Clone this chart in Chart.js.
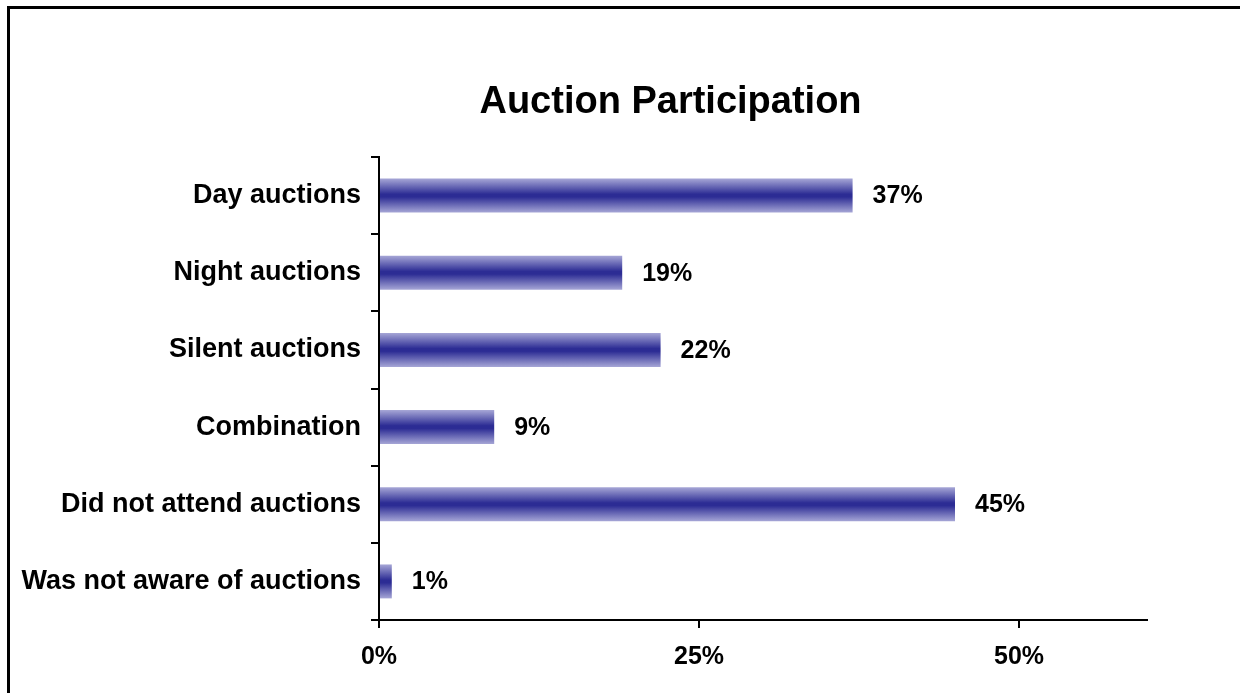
<!DOCTYPE html>
<html>
<head>
<meta charset="utf-8">
<title>Auction Participation</title>
<script src="https://cdn.jsdelivr.net/npm/chart.js@4.4.1/dist/chart.umd.min.js"></script>
<style>
  html, body { margin: 0; padding: 0; background: #fff; overflow: hidden; }
  body { width: 1240px; height: 693px; position: relative; }
  #frame {
    position: absolute; left: 7px; top: 6px;
    width: 1321px; height: 700px;
    border: 3px solid #000; background: #fff;
  }
  #frame canvas { position: absolute; left: 0; top: 0; }
</style>
</head>
<body>
<div id="frame">
  <canvas id="chart" width="1321" height="684"></canvas>
</div>
<script>
const titleText = 'Auction Participation';
const categories = [
  'Day auctions',
  'Night auctions',
  'Silent auctions',
  'Combination',
  'Did not attend auctions',
  'Was not aware of auctions'
];
const participation = [37, 19, 22, 9, 45, 1];
const xTicks = [0, 25, 50];
const xMax = 60;

const FONT = "'Liberation Sans', Arial, sans-serif";
const BAR_FRACTION = 0.44;

// light-dark-light band across each bar
function barGradient(c) {
  const chart = c.chart;
  const area = chart.chartArea;
  if (!area || c.dataIndex === undefined) return '#3a3a9c';
  const yc = chart.scales.y.getPixelForValue(c.dataIndex);
  const half = (area.height / categories.length) * BAR_FRACTION / 2;
  const g = chart.ctx.createLinearGradient(0, yc - half, 0, yc + half);
  g.addColorStop(0, '#a6a6d6');
  g.addColorStop(0.46, '#2c2c94');
  g.addColorStop(0.54, '#2c2c94');
  g.addColorStop(1, '#a6a6d6');
  return g;
}

const titlePlugin = {
  id: 'centredTitle',
  afterDraw(chart) {
    const ctx = chart.ctx;
    ctx.save();
    ctx.font = 'bold 38px ' + FONT;
    ctx.fillStyle = '#000';
    ctx.textAlign = 'center';
    ctx.textBaseline = 'alphabetic';
    ctx.fillText(titleText, chart.width / 2, 104);
    ctx.restore();
  }
};

const valueLabels = {
  id: 'valueLabels',
  afterDatasetsDraw(chart) {
    const ctx = chart.ctx;
    const meta = chart.getDatasetMeta(0);
    ctx.save();
    ctx.font = 'bold 25px ' + FONT;
    ctx.fillStyle = '#000';
    ctx.textAlign = 'left';
    ctx.textBaseline = 'middle';
    meta.data.forEach((bar, i) => {
      ctx.fillText(participation[i] + '%', bar.x + 20, bar.y + 1);
    });
    ctx.restore();
  }
};

new Chart(document.getElementById('chart'), {
  type: 'bar',
  data: {
    labels: categories,
    datasets: [{
      data: participation,
      backgroundColor: barGradient,
      borderWidth: 0,
      categoryPercentage: 1,
      barPercentage: BAR_FRACTION
    }]
  },
  plugins: [titlePlugin, valueLabels],
  options: {
    indexAxis: 'y',
    responsive: false,
    animation: false,
    layout: { padding: { left: 0, right: 184, top: 148, bottom: 0 } },
    plugins: {
      legend: { display: false },
      title: { display: false },
      tooltip: { enabled: false }
    },
    scales: {
      x: {
        min: 0,
        max: xMax,
        afterFit(scale) { scale.height = 73; },
        afterBuildTicks(scale) { scale.ticks = xTicks.map(v => ({ value: v })); },
        border: { display: true, color: '#000', width: 2 },
        grid: {
          drawOnChartArea: false,
          drawTicks: true,
          tickLength: 8,
          color: '#000',
          lineWidth: 2
        },
        ticks: {
          padding: 14,
          color: '#000',
          font: { family: FONT, size: 25, weight: 'bold' },
          callback: v => v + '%'
        }
      },
      y: {
        afterFit(scale) { scale.width = 369; },
        border: { display: true, color: '#000', width: 2 },
        grid: {
          offset: true,
          drawOnChartArea: false,
          drawTicks: true,
          tickLength: 8,
          color: '#000',
          lineWidth: 2
        },
        ticks: {
          padding: 10,
          color: '#000',
          font: { family: FONT, size: 27, weight: 'bold' }
        }
      }
    }
  }
});
</script>
</body>
</html>
